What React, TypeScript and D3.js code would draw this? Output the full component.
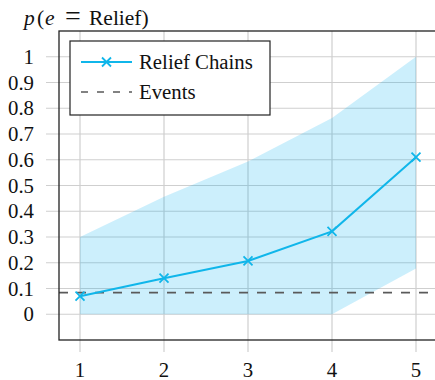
import React from "react";
import * as d3 from "d3";

// chart data
const steps = [1, 2, 3, 4, 5];
const reliefChains = [0.07, 0.14, 0.207, 0.322, 0.61];
const bandUpper = [0.3, 0.456, 0.593, 0.762, 1.0];
const bandLower = [0, 0, 0, 0, 0.178];
const eventsLevel = 0.084;
const yTicks = [0, 0.1, 0.2, 0.3, 0.4, 0.5, 0.6, 0.7, 0.8, 0.9, 1];

const width = 435;
const height = 380;
const plot = { left: 59, top: 31, bottom: 340, right: 437 };

const lineColor = "#10b6ea";
const dashColor = "#5a5a5a";
const fontFamily = "'Liberation Serif', 'DejaVu Serif', serif";
const fontSize = 20.8;

const x = d3.scaleLinear().domain([0.75, 5.25]).range([plot.left, plot.right]);
const y = d3.scaleLinear().domain([-0.1, 1.1]).range([plot.bottom, plot.top]);

const points = steps.map((s, i) => ({ s, v: reliefChains[i], lo: bandLower[i], hi: bandUpper[i] }));

const area = d3.area<any>()
    .x(d => x(d.s))
    .y0(d => y(d.lo))
    .y1(d => y(d.hi));

const line = d3.line<any>()
    .x(d => x(d.s))
    .y(d => y(d.v));

// small x-shaped marker
const cross = (cx: number, cy: number, r = 4.5) =>
    `M${cx - r},${cy - r}L${cx + r},${cy + r}M${cx - r},${cy + r}L${cx + r},${cy - r}`;

export default function App() {
    const gridColor = "#cfcfcf";
    return (
        <svg width={width} height={height} style={{ position: "absolute", left: 0, top: 0, background: "#fff" }}
            fontFamily={fontFamily}>
            {/* grid */}
            {yTicks.map(t => (
                <line key={"gy" + t} x1={plot.left - 13} x2={width} y1={y(t)} y2={y(t)} stroke={gridColor} strokeWidth={1.2} />
            ))}
            {steps.map(s => (
                <line key={"gx" + s} x1={x(s)} x2={x(s)} y1={plot.top} y2={plot.bottom + 12} stroke={gridColor} strokeWidth={1.2} />
            ))}

            {/* confidence band */}
            <path d={area(points) || ""} fill="#00aeef" fillOpacity={0.2} />

            {/* events baseline */}
            <line x1={plot.left} x2={width} y1={y(eventsLevel)} y2={y(eventsLevel)}
                stroke={dashColor} strokeWidth={1.6} strokeDasharray="9,9" />

            {/* relief chains */}
            <path d={line(points) || ""} fill="none" stroke={lineColor} strokeWidth={2} />
            {points.map(p => (
                <path key={"m" + p.s} d={cross(x(p.s), y(p.v))} stroke={lineColor} strokeWidth={1.8} />
            ))}

            {/* axis box */}
            <rect x={plot.left} y={plot.top} width={plot.right - plot.left} height={plot.bottom - plot.top}
                fill="none" stroke="#222" strokeWidth={1.3} />

            {/* tick labels */}
            {yTicks.map(t => (
                <text key={"ly" + t} x={34} y={y(t) + 7} textAnchor="end" fontSize={fontSize} fill="#111">
                    {d3.format("~g")(t)}
                </text>
            ))}
            {steps.map(s => (
                <text key={"lx" + s} x={x(s)} y={377} textAnchor="middle" fontSize={fontSize} fill="#111">
                    {s}
                </text>
            ))}

            {/* title: p(e = Relief) */}
            <g fontSize={21.5} fill="#111">
                <text x={24} y={25} fontStyle="italic">p</text>
                <text x={37} y={25}>(</text>
                <text x={45} y={25} fontStyle="italic">e</text>
                <text x={73} y={25} textAnchor="middle" fontSize={28}>=</text>
                <text x={89} y={25}>Relief)</text>
            </g>

            {/* legend */}
            <g>
                <rect x={70} y={41} width={200} height={74} fill="#fff" stroke="#222" strokeWidth={1.2} />
                <line x1={81} x2={132} y1={62} y2={62} stroke={lineColor} strokeWidth={2} />
                <path d={cross(106.5, 62)} stroke={lineColor} strokeWidth={1.8} />
                <text x={139} y={68.5} fontSize={fontSize} fill="#111">Relief Chains</text>
                <line x1={81} x2={132} y1={92} y2={92} stroke={dashColor} strokeWidth={1.6} strokeDasharray="7,9" />
                <text x={139} y={98.5} fontSize={fontSize} fill="#111">Events</text>
            </g>
        </svg>
    );
}
